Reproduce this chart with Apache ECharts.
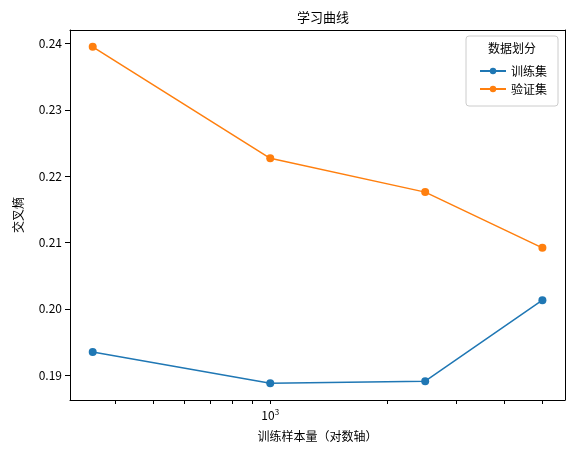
<!DOCTYPE html><html><head><meta charset="utf-8"><script src="https://cdn.jsdelivr.net/npm/echarts@6/dist/echarts.min.js"></script>
<style>body{margin:0}#c{width:576px;height:457px}</style></head><body><div id="c"></div><script>
var sizes=[350,1000,2500,5000];
var train=[0.1935,0.1888,0.1891,0.2013];
var val=[0.2395,0.2227,0.2176,0.2092];
var yTicks=[0.19,0.20,0.21,0.22,0.23,0.24];
var xTicks=[400,500,600,700,800,900,1000,2000,3000,4000,5000];
var xLabels=[1000];
var F='"Noto Sans CJK SC", sans-serif';
var c=echarts.init(document.getElementById('c'));
function pts(a){return sizes.map(function(s,i){return [s,a[i]];});}
var ax={lineStyle:{color:'#000'}};
c.setOption({
animation:false,
title:{text:'学习曲线',left:318,top:6,textAlign:'center',textStyle:{fontFamily:F,fontSize:13,fontWeight:'normal',color:'#000'}},
grid:{left:70,right:11,top:30,bottom:57},
xAxis:[{type:'log',logBase:10,min:306,max:5715,name:'训练样本量（对数轴）',nameLocation:'middle',nameGap:30,
nameTextStyle:{fontFamily:F,fontSize:12,color:'#000'},
axisLine:ax,axisTick:{show:true,length:4,customValues:xTicks,lineStyle:{color:'#000'}},
splitLine:{show:false},
axisLabel:{customValues:xLabels,color:'#000',fontFamily:F,fontSize:12,formatter:function(v){return '{b|10}{s|3}';},rich:{b:{fontSize:12,color:'#000'},s:{fontSize:8,color:'#000',verticalAlign:'top',padding:[0,0,6,0]}}}},
{type:'log',logBase:10,min:306,max:5715,position:'top',axisLine:ax,axisTick:{show:false},axisLabel:{show:false},splitLine:{show:false}}],
yAxis:[{type:'value',min:0.18626,max:0.24204,name:'交叉熵',nameLocation:'middle',nameGap:46,nameRotate:90,
nameTextStyle:{fontFamily:F,fontSize:12,color:'#000'},
axisLine:{show:true,lineStyle:{color:'#000'}},axisTick:{show:true,length:5,customValues:yTicks,lineStyle:{color:'#000'}},splitLine:{show:false},
axisLabel:{customValues:yTicks,color:'#000',fontFamily:F,fontSize:12,formatter:function(v){return v.toFixed(2);}}},
{type:'value',min:0.18626,max:0.24204,position:'right',axisLine:{show:true,lineStyle:{color:'#000'}},axisTick:{show:false},axisLabel:{show:false},splitLine:{show:false}}],
legend:{orient:'vertical',right:24,top:60,itemGap:6,itemWidth:26,itemHeight:8,textStyle:{fontFamily:F,fontSize:12,color:'#000'},data:['训练集','验证集']},
graphic:[{type:'rect',shape:{x:466,y:36,width:92,height:70,r:3},style:{fill:'rgba(255,255,255,0.8)',stroke:'#ccc'},z:-1},
{type:'text',x:512,y:48,style:{text:'数据划分',fontFamily:F,fontSize:12,fill:'#000',textAlign:'center',textVerticalAlign:'middle'}}],
series:[
{name:'训练集',type:'line',data:pts(train),symbol:'circle',symbolSize:8,itemStyle:{color:'#1f77b4'},lineStyle:{width:1.5,color:'#1f77b4'}},
{name:'验证集',type:'line',data:pts(val),symbol:'circle',symbolSize:8,itemStyle:{color:'#ff7f0e'},lineStyle:{width:1.5,color:'#ff7f0e'}}]
});
</script></body></html>
